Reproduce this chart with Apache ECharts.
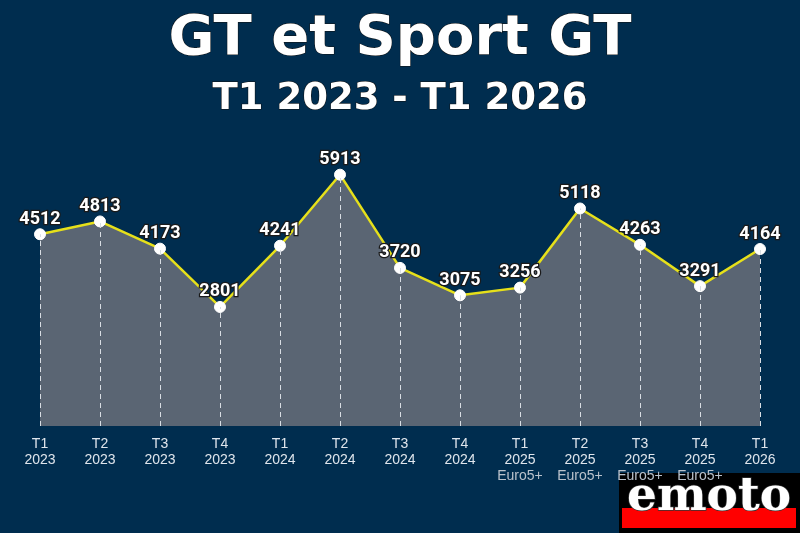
<!DOCTYPE html>
<html><head><meta charset="utf-8">
<script src="https://cdn.jsdelivr.net/npm/echarts@6/dist/echarts.min.js"></script>
<style>html,body{margin:0;padding:0;background:#002d4f;}#c{width:800px;height:533px;}</style>
</head><body><div id="c"></div>
<script>
const quarters = ['T1','T2','T3','T4','T1','T2','T3','T4','T1','T2','T3','T4','T1'];
const years = ['2023','2023','2023','2023','2024','2024','2024','2024','2025','2025','2025','2025','2026'];
const notes = ['','','','','','','','','Euro5+','Euro5+','Euro5+','Euro5+',''];
const values = [4512,4813,4173,2801,4241,5913,3720,3075,3256,5118,4263,3291,4164];
const titleText = 'GT et Sport GT';
const subtitleText = 'T1 2023 - T1 2026';

const categories = quarters.map((q,i)=> q + '\n' + years[i] + (notes[i] ? '\n{n|' + notes[i] + '}' : ''));
const chart = echarts.init(document.getElementById('c'));
chart.setOption({
  backgroundColor:'#002d4f',
  animation:false,
  title:[
    {text:titleText,left:'center',top:6,textStyle:{color:'#fff',fontFamily:'DejaVu Sans',fontWeight:'bold',fontSize:56,textBorderColor:'#111',textBorderWidth:1}},
    {text:subtitleText,left:'center',top:76,textStyle:{color:'#fff',fontFamily:'DejaVu Sans',fontWeight:'bold',fontSize:37,textBorderColor:'#111',textBorderWidth:1}}
  ],
  grid:{left:40,right:40,top:171,bottom:107},
  xAxis:{type:'category',data:categories,boundaryGap:false,z:5,
    axisLine:{show:false},axisTick:{show:false},splitLine:{show:false},
    axisLabel:{color:'#dfe5ec',fontFamily:'Liberation Sans',fontSize:14,lineHeight:16,margin:10,interval:0,
      rich:{n:{color:'#b9c2cc',fontFamily:'Liberation Sans',fontSize:14,lineHeight:16}}}},
  yAxis:{type:'value',min:0,max:6000,show:false,splitLine:{show:false}},
  series:[{
    type:'line',data:values,
    lineStyle:{color:'#e6e01a',width:2.5},
    itemStyle:{color:'#ffffff',borderColor:'#ffffff'},
    symbol:'circle',symbolSize:11,
    areaStyle:{color:'#5a6573',opacity:1},
    label:{show:true,position:'top',distance:0,color:'#fff',fontFamily:'Roboto',fontWeight:'bold',fontSize:18,textBorderColor:'#1a1a1a',textBorderWidth:2.5},
    markLine:{silent:true,symbol:'none',label:{show:false},
      lineStyle:{color:'#d8dde3',type:[5,4],width:1},
      data: values.map((v,i)=>[{coord:[i,0]},{coord:[i,v]}])},
    z:3
  }],
  graphic:{z:-1,elements:[
    {type:'rect',z:-3,shape:{x:619,y:473,width:181,height:60},style:{fill:'#000'}},
    {type:'rect',z:-2,shape:{x:622,y:508,width:174,height:20},style:{fill:'#ff0000'}},
    {type:'text',z:-1,x:709,y:498,style:{text:'emoto',fill:'#fff',font:'900 47px "DejaVu Serif"',textAlign:'center',textVerticalAlign:'middle',stroke:'#333',lineWidth:1.5}}
  ]}
});
</script></body></html>
